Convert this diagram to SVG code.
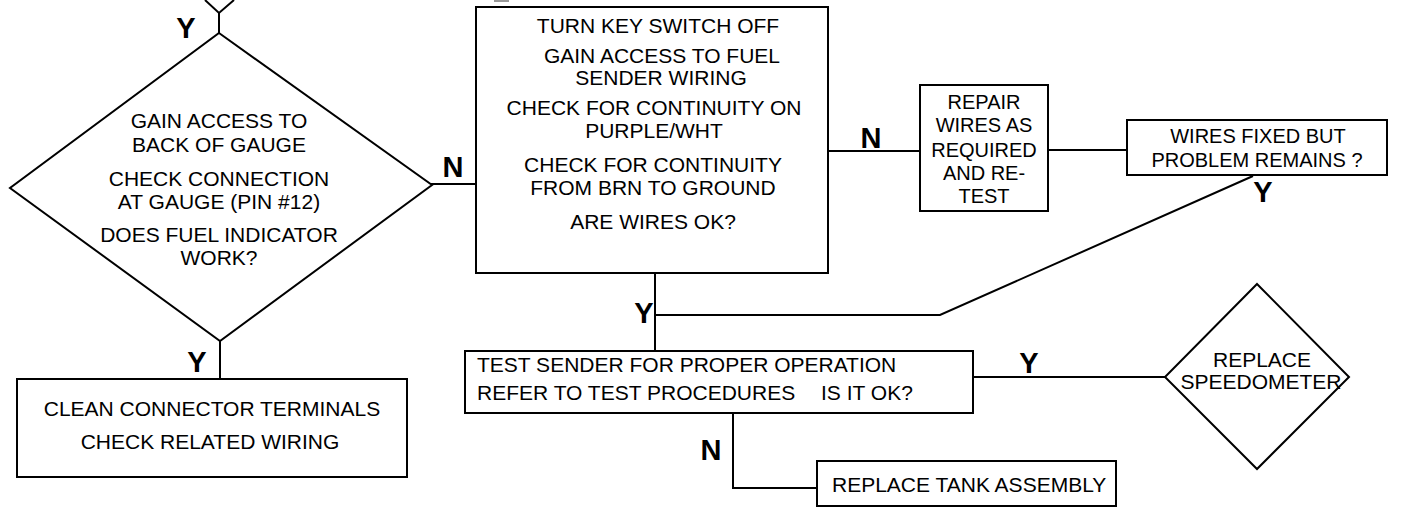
<svg xmlns="http://www.w3.org/2000/svg" width="1428" height="516" viewBox="0 0 1428 516">
<style>
.s{fill:#fff;stroke:#000;stroke-width:2}
.c{fill:none;stroke:#000;stroke-width:2}
text{font-family:"Liberation Sans",Arial,sans-serif;fill:#000}
.t{font-size:21px;text-anchor:middle}
.t20{font-size:20px;text-anchor:middle}
.l{font-size:21px}
.b{font-size:29px;font-weight:bold;text-anchor:middle}
</style>
<rect width="1428" height="516" fill="#fff"/>
<g id="connectors">
<polyline class="c" points="205,0 219,13 234,0"/>
<line class="c" x1="219" y1="13" x2="219" y2="33"/>
<line class="c" x1="431" y1="184" x2="476" y2="184"/>
<line class="c" x1="220" y1="341" x2="220" y2="379"/>
<line class="c" x1="828" y1="151" x2="920" y2="151"/>
<line class="c" x1="1048" y1="150" x2="1127" y2="150"/>
<line class="c" x1="655" y1="273" x2="655" y2="351"/>
<polyline class="c" points="1253,176 940,315 655,315"/>
<line class="c" x1="973" y1="377" x2="1165" y2="377"/>
<polyline class="c" points="733,413 733,488 817,488"/>
<rect x="494" y="0" width="15" height="2" fill="#999"/>
<text class="b" x="186" y="38">Y</text>
<text class="b" x="453" y="177">N</text>
<text class="b" x="871" y="148">N</text>
<text class="b" x="197" y="372">Y</text>
<text class="b" x="1263" y="202">Y</text>
<text class="b" x="644" y="323">Y</text>
<text class="b" x="1029" y="373">Y</text>
<text class="b" x="711" y="460">N</text>
</g>
<g id="gauge-check">
<polygon class="s" points="219,33 432,185 220,341 10,188"/>
<text class="t" x="219" y="128">GAIN ACCESS TO</text>
<text class="t" x="219" y="152">BACK OF GAUGE</text>
<text class="t" x="219" y="186">CHECK CONNECTION</text>
<text class="t" x="219" y="209">AT GAUGE (PIN #12)</text>
<text class="t" x="219" y="242">DOES FUEL INDICATOR</text>
<text class="t" x="219" y="265">WORK?</text>
</g>
<g id="clean-connector">
<rect class="s" x="17" y="379" width="390" height="98"/>
<text class="t" x="212" y="416">CLEAN CONNECTOR TERMINALS</text>
<text class="t" x="210" y="449">CHECK RELATED WIRING</text>
</g>
<g id="sender-wiring">
<rect class="s" x="476" y="7" width="352" height="266"/>
<text class="t" x="658" y="33">TURN KEY SWITCH OFF</text>
<text class="t" x="662" y="63">GAIN ACCESS TO FUEL</text>
<text class="t" x="661" y="85">SENDER WIRING</text>
<text class="t" x="654" y="115">CHECK FOR CONTINUITY ON</text>
<text class="t" x="654" y="138">PURPLE/WHT</text>
<text class="t" x="653" y="172">CHECK FOR CONTINUITY</text>
<text class="t" x="653" y="195">FROM BRN TO GROUND</text>
<text class="t" x="653" y="229">ARE WIRES OK?</text>
</g>
<g id="repair-wires">
<rect class="s" x="920" y="85" width="128" height="126"/>
<text class="t20" x="984" y="109">REPAIR</text>
<text class="t20" x="984" y="132">WIRES AS</text>
<text class="t20" x="984" y="157">REQUIRED</text>
<text class="t20" x="984" y="180">AND RE-</text>
<text class="t20" x="984" y="203">TEST</text>
</g>
<g id="wires-fixed">
<rect class="s" x="1127" y="120" width="260" height="55"/>
<text class="t20" x="1258" y="143">WIRES FIXED BUT</text>
<text class="t20" x="1257" y="167">PROBLEM REMAINS ?</text>
</g>
<g id="test-sender">
<rect class="s" x="465" y="351" width="508" height="62"/>
<text class="l" x="477" y="372">TEST SENDER FOR PROPER OPERATION</text>
<text class="l" x="477" y="400">REFER TO TEST PROCEDURES</text>
<text class="l" x="821" y="400">IS IT OK?</text>
</g>
<g id="replace-speedometer">
<polygon class="s" points="1257,284 1349,377 1257,469 1165,377"/>
<text class="t" x="1262" y="367">REPLACE</text>
<text class="t" x="1261" y="389">SPEEDOMETER</text>
</g>
<g id="replace-tank">
<rect class="s" x="817" y="461" width="299" height="45"/>
<text class="l" x="832" y="492">REPLACE TANK ASSEMBLY</text>
</g>
</svg>
